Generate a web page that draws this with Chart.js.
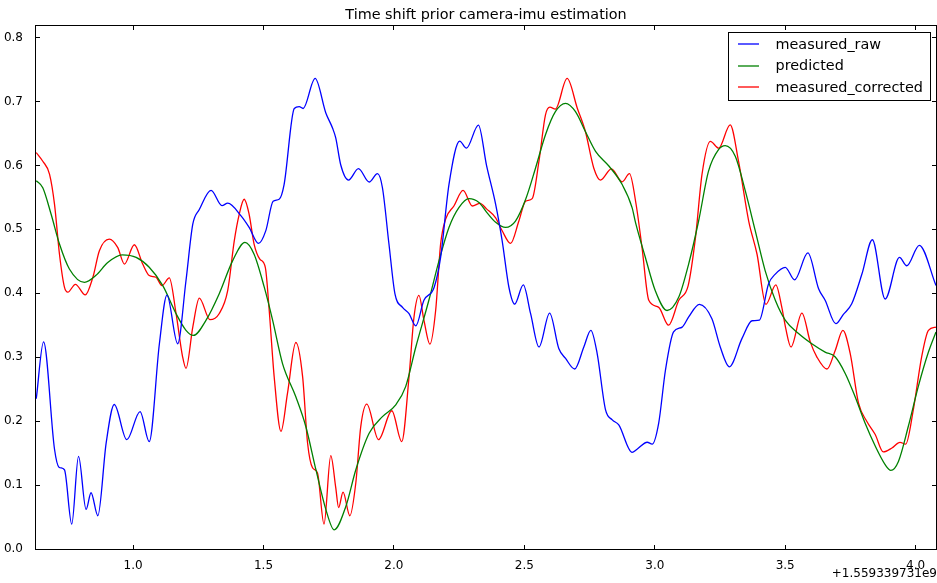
<!DOCTYPE html>
<html>
<head>
<meta charset="utf-8">
<title>Time shift prior camera-imu estimation</title>
<script src="https://cdn.jsdelivr.net/npm/chart.js@4/dist/chart.umd.min.js"></script>
<style>
  html, body { margin: 0; padding: 0; background: #fff; }
  canvas { display: block; }
</style>
</head>
<body>
<canvas id="chart" width="937" height="583"></canvas>
<script>
// Time axis is shown relative to this offset (seconds).
const TIME_OFFSET_LABEL = '+1.559339731e9';
const TITLE = 'Time shift prior camera-imu estimation';

const X_MIN = 0.628, X_MAX = 4.078;
const Y_MIN = 0.0, Y_MAX = 0.818;
const xTicks = [1.0, 1.5, 2.0, 2.5, 3.0, 3.5, 4.0];
const yTicks = [0.0, 0.1, 0.2, 0.3, 0.4, 0.5, 0.6, 0.7, 0.8];

const seriesNames = ['measured_raw', 'predicted', 'measured_corrected'];

// measured_raw
const rawT = [0.629,0.657,0.699,0.716,0.737,0.765,0.791,0.820,0.839,0.865,0.897,0.928,0.976,1.027,1.062,1.101,1.130,1.171,1.203,1.229,1.254,1.299,1.341,1.363,1.414,1.445,1.481,1.509,1.537,1.560,1.579,1.618,1.637,1.652,1.698,1.739,1.765,1.777,1.796,1.826,1.864,1.905,1.937,1.956,1.981,2.004,2.033,2.058,2.084,2.115,2.154,2.179,2.211,2.252,2.278,2.324,2.355,2.390,2.415,2.441,2.463,2.496,2.524,2.556,2.597,2.632,2.658,2.693,2.728,2.755,2.779,2.811,2.837,2.862,2.913,2.932,2.971,2.990,3.015,3.041,3.072,3.105,3.130,3.171,3.219,3.251,3.286,3.334,3.373,3.401,3.436,3.462,3.500,3.536,3.587,3.628,3.653,3.694,3.723,3.755,3.794,3.834,3.883,3.938,3.966,4.014,4.078];
const rawV = [0.235,0.324,0.156,0.128,0.124,0.039,0.145,0.062,0.088,0.052,0.166,0.226,0.171,0.215,0.168,0.321,0.397,0.321,0.420,0.508,0.531,0.561,0.537,0.541,0.521,0.503,0.478,0.498,0.544,0.547,0.570,0.689,0.692,0.689,0.736,0.682,0.658,0.643,0.601,0.577,0.595,0.574,0.587,0.565,0.477,0.399,0.378,0.368,0.349,0.389,0.409,0.456,0.570,0.638,0.627,0.663,0.600,0.539,0.482,0.409,0.383,0.413,0.368,0.316,0.369,0.3135,0.298,0.2815,0.316,0.342,0.306,0.218,0.202,0.194,0.151,0.156,0.167,0.164,0.197,0.280,0.3395,0.347,0.363,0.3826,0.360,0.316,0.285,0.329,0.357,0.358,0.4146,0.430,0.4406,0.421,0.463,0.407,0.389,0.3524,0.367,0.3835,0.430,0.4837,0.391,0.456,0.443,0.475,0.412];

// predicted
const predT = [0.629,0.654,0.686,0.718,0.756,0.814,0.858,0.903,0.958,1.012,1.062,1.114,1.165,1.203,1.231,1.280,1.330,1.382,1.429,1.464,1.503,1.535,1.573,1.624,1.662,1.701,1.739,1.771,1.816,1.854,1.905,1.956,2.007,2.045,2.084,2.134,2.173,2.211,2.249,2.288,2.326,2.355,2.390,2.428,2.466,2.505,2.543,2.581,2.619,2.658,2.696,2.734,2.773,2.824,2.875,2.913,2.926,2.964,3.002,3.047,3.092,3.130,3.168,3.206,3.245,3.270,3.309,3.347,3.385,3.423,3.462,3.500,3.551,3.602,3.653,3.691,3.730,3.768,3.806,3.845,3.883,3.905,3.934,3.972,4.010,4.049,4.078];
const predV = [0.576,0.565,0.5235,0.477,0.438,0.417,0.428,0.448,0.460,0.456,0.4406,0.412,0.368,0.342,0.334,0.358,0.399,0.451,0.4795,0.461,0.4095,0.358,0.290,0.238,0.192,0.124,0.062,0.030,0.067,0.124,0.181,0.207,0.2255,0.254,0.316,0.389,0.451,0.503,0.534,0.548,0.542,0.527,0.511,0.503,0.513,0.547,0.596,0.648,0.684,0.697,0.684,0.653,0.622,0.599,0.570,0.534,0.511,0.456,0.404,0.373,0.394,0.446,0.513,0.591,0.625,0.631,0.614,0.560,0.498,0.4355,0.389,0.358,0.337,0.321,0.308,0.3006,0.2746,0.238,0.197,0.161,0.132,0.123,0.137,0.192,0.254,0.308,0.3395];

// measured_corrected
const corrT = [0.629,0.654,0.680,0.699,0.718,0.737,0.750,0.779,0.817,0.846,0.871,0.909,0.941,0.967,1.005,1.037,1.062,1.088,1.111,1.139,1.165,1.190,1.203,1.229,1.254,1.295,1.330,1.363,1.388,1.407,1.426,1.445,1.464,1.486,1.507,1.522,1.541,1.567,1.592,1.624,1.650,1.669,1.688,1.707,1.732,1.758,1.777,1.788,1.805,1.831,1.854,1.873,1.896,1.941,1.992,2.030,2.058,2.077,2.096,2.115,2.138,2.160,2.179,2.198,2.230,2.265,2.301,2.330,2.355,2.390,2.415,2.447,2.479,2.505,2.530,2.556,2.581,2.598,2.619,2.664,2.703,2.734,2.766,2.792,2.834,2.875,2.903,2.928,2.951,2.977,3.015,3.053,3.092,3.128,3.156,3.181,3.213,3.245,3.289,3.321,3.360,3.392,3.426,3.464,3.487,3.502,3.522,3.564,3.596,3.621,3.660,3.692,3.721,3.749,3.781,3.813,3.845,3.876,3.909,3.940,3.962,3.991,4.023,4.049,4.078];
const corrV = [0.620,0.6065,0.586,0.539,0.461,0.4095,0.4017,0.414,0.3975,0.425,0.4666,0.4846,0.4717,0.4457,0.4759,0.4457,0.4277,0.425,0.412,0.424,0.368,0.3006,0.2825,0.347,0.3924,0.3586,0.368,0.4044,0.482,0.5235,0.547,0.5235,0.477,0.4535,0.4406,0.373,0.2695,0.184,0.2435,0.323,0.2695,0.1658,0.127,0.119,0.039,0.146,0.096,0.0647,0.089,0.052,0.1036,0.1918,0.2265,0.171,0.2162,0.168,0.2695,0.3628,0.3966,0.358,0.3204,0.373,0.4768,0.5157,0.5365,0.561,0.5365,0.5406,0.532,0.518,0.4977,0.478,0.513,0.544,0.548,0.6065,0.679,0.691,0.688,0.736,0.6894,0.653,0.596,0.577,0.5946,0.5743,0.587,0.540,0.4717,0.389,0.378,0.350,0.389,0.412,0.487,0.586,0.6376,0.627,0.6634,0.6065,0.513,0.461,0.3826,0.413,0.378,0.345,0.316,0.369,0.324,0.3006,0.2815,0.311,0.342,0.306,0.228,0.1995,0.179,0.1518,0.158,0.1669,0.164,0.2177,0.3006,0.342,0.347];

const seriesColors = ['#0000ff', '#008000', '#ff0000'];

const FONT = "'DejaVu Sans', 'Liberation Sans', sans-serif";
Chart.defaults.font.family = FONT;
Chart.defaults.color = '#000';

function pairs(ts, vs) {
  const n = Math.min(ts.length, vs.length);
  const out = [];
  for (let i = 0; i < n; i++) out.push({ x: ts[i], y: vs[i] });
  return out;
}

const seriesData = [pairs(rawT, rawV), pairs(predT, predV), pairs(corrT, corrV)];

// Frame, inward ticks, boxed legend and the offset note under the x axis.
const axesDecor = {
  id: 'axesDecor',
  afterLayout(chart) {
    // centre the title over the plotting area
    const t = chart.titleBlock, a = chart.chartArea;
    if (t && a) { t.left = a.left; t.right = a.right; t.width = a.right - a.left; }
  },
  afterDraw(chart) {
    const { ctx, chartArea: a, scales } = chart;
    const xs = scales.x, ys = scales.y;
    ctx.save();
    ctx.strokeStyle = '#000';
    ctx.lineWidth = 1;
    ctx.strokeRect(a.left - 0.5, a.top - 0.5, a.right - a.left + 1, a.bottom - a.top + 1);

    const TL = 4;
    ctx.beginPath();
    xTicks.forEach(v => {
      const px = Math.floor(xs.getPixelForValue(v)) + 0.5;
      ctx.moveTo(px, a.bottom); ctx.lineTo(px, a.bottom - TL);
      ctx.moveTo(px, a.top); ctx.lineTo(px, a.top + TL);
    });
    yTicks.forEach(v => {
      const py = Math.floor(ys.getPixelForValue(v)) + 0.5;
      ctx.moveTo(a.left, py); ctx.lineTo(a.left + TL, py);
      ctx.moveTo(a.right, py); ctx.lineTo(a.right - TL, py);
    });
    ctx.stroke();

    // legend
    const lx = 728.5, ly = 32.5, lw = 202, lh = 68;
    ctx.fillStyle = '#fff';
    ctx.fillRect(lx, ly, lw, lh);
    ctx.strokeStyle = '#000';
    ctx.strokeRect(lx, ly, lw, lh);
    ctx.font = '14.4px ' + FONT;
    ctx.textAlign = 'left';
    ctx.textBaseline = 'middle';
    chart.data.datasets.forEach((ds, i) => {
      const ry = 44 + i * 21.6;
      ctx.strokeStyle = ds.borderColor;
      ctx.lineWidth = 1.3;
      ctx.beginPath();
      ctx.moveTo(738, Math.round(ry));
      ctx.lineTo(759, Math.round(ry));
      ctx.stroke();
      ctx.fillStyle = '#000';
      ctx.fillText(ds.label, 775.5, ry + 1);
    });

    // axis offset
    ctx.font = '12px ' + FONT;
    ctx.textAlign = 'right';
    ctx.textBaseline = 'alphabetic';
    ctx.fillStyle = '#000';
    ctx.fillText(TIME_OFFSET_LABEL, 937, 577);
    ctx.restore();
  }
};

new Chart(document.getElementById('chart').getContext('2d'), {
  type: 'line',
  data: {
    datasets: seriesNames.map((name, i) => ({
      label: name,
      data: seriesData[i],
      borderColor: seriesColors[i],
      backgroundColor: seriesColors[i],
      borderWidth: 1.3,
      pointRadius: 0,
      fill: false,
      cubicInterpolationMode: 'monotone'
    }))
  },
  options: {
    responsive: false,
    animation: false,
    events: [],
    layout: { padding: { left: 0, right: 1, top: 0, bottom: 0 } },
    plugins: {
      legend: { display: false },
      tooltip: { enabled: false },
      title: {
        display: true,
        text: TITLE,
        color: '#000',
        font: { size: 14.4, weight: 'normal', family: FONT, lineHeight: 1.2 },
        padding: { top: 7, bottom: 1.72 }
      }
    },
    scales: {
      x: {
        type: 'linear',
        min: X_MIN,
        max: X_MAX,
        afterFit(s) { s.height = 34; },
        afterBuildTicks(s) { s.ticks = xTicks.map(v => ({ value: v })); },
        grid: { display: false },
        border: { display: false },
        ticks: {
          color: '#000',
          font: { size: 12, family: FONT },
          padding: 2,
          maxRotation: 0,
          autoSkip: false,
          callback: v => Number(v).toFixed(1)
        }
      },
      y: {
        type: 'linear',
        min: Y_MIN,
        max: Y_MAX,
        afterFit(s) { s.width = 36; },
        afterBuildTicks(s) { s.ticks = yTicks.map(v => ({ value: v })); },
        grid: { display: false },
        border: { display: false },
        ticks: {
          color: '#000',
          font: { size: 12, family: FONT },
          padding: 5,
          autoSkip: false,
          callback: v => Number(v).toFixed(1)
        }
      }
    }
  },
  plugins: [axesDecor]
});
</script>
</body>
</html>
